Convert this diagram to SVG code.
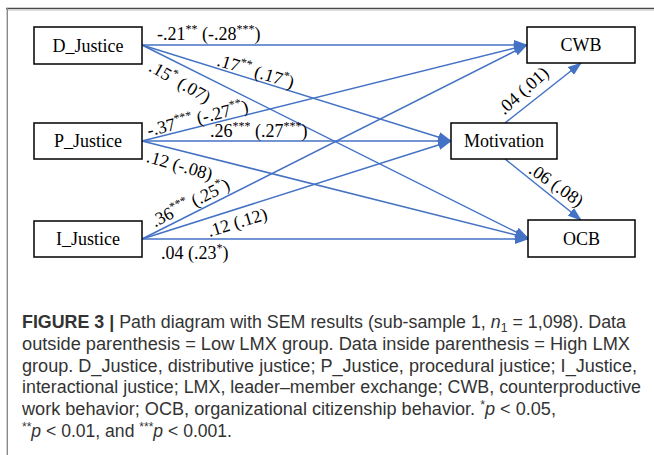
<svg xmlns="http://www.w3.org/2000/svg" width="654" height="455" viewBox="0 0 654 455">
<style>
.box{fill:#fff;stroke:#000;stroke-width:1.5}
.nt{font-family:"Liberation Serif","Times New Roman",serif;font-size:18px;fill:#000;text-anchor:middle}
.lb{font-family:"Liberation Serif","Times New Roman",serif;font-size:18px;fill:#000}
.sup{font-size:12px}
.ar{stroke:#4472C4;stroke-width:1.5;fill:none;marker-end:url(#ah)}
.cap{font-family:"Liberation Sans",Arial,sans-serif;font-size:17.5px;fill:#333}
</style>
<defs>
<marker id="ah" markerUnits="userSpaceOnUse" markerWidth="14" markerHeight="10" refX="13" refY="5" orient="auto">
<path d="M0,0 L14,5 L0,10 Z" fill="#4472C4"/>
</marker>
</defs>
<rect width="654" height="455" fill="#fff"/>
<g id="frame">
<line x1="6" y1="8.5" x2="654" y2="8.5" stroke="#4a4a4a" stroke-width="1.3"/>
<line x1="8" y1="10.2" x2="654" y2="10.2" stroke="#d0d0d0" stroke-width="1"/>
<line x1="7.3" y1="8" x2="7.3" y2="455" stroke="#8a8a8a" stroke-width="1.4"/>
</g>
<g id="connectors">
<line class="ar" x1="142" y1="45" x2="527" y2="45"/>
<line class="ar" x1="142" y1="45" x2="451" y2="141"/>
<line class="ar" x1="142" y1="45" x2="528" y2="238"/>
<line class="ar" x1="142" y1="141" x2="527" y2="45"/>
<line class="ar" x1="142" y1="141" x2="451" y2="141"/>
<line class="ar" x1="142" y1="141" x2="528" y2="238"/>
<line class="ar" x1="142" y1="239" x2="527" y2="45"/>
<line class="ar" x1="142" y1="239" x2="451" y2="141"/>
<line class="ar" x1="142" y1="239" x2="528" y2="239"/>
<line class="ar" x1="505" y1="123" x2="581" y2="63"/>
<line class="ar" x1="505" y1="159" x2="581" y2="220"/>
</g>
<g id="labels">
<text class="lb" x="157" y="40">-.21<tspan class="sup" dy="-7">**</tspan><tspan dy="7"> (-.28</tspan><tspan class="sup" dy="-7">***</tspan><tspan dy="7">)</tspan></text>
<text class="lb" text-anchor="middle" transform="translate(254,77) rotate(17)">.17<tspan class="sup" dy="-7">**</tspan><tspan dy="7"> (.17</tspan><tspan class="sup" dy="-7">*</tspan><tspan dy="7">)</tspan></text>
<text class="lb" text-anchor="middle" transform="translate(177,87) rotate(30)">.15<tspan class="sup" dy="-7">*</tspan><tspan dy="7"> (.07)</tspan></text>
<text class="lb" text-anchor="middle" transform="translate(199,124) rotate(-14)">-.37<tspan class="sup" dy="-7">***</tspan><tspan dy="7"> (-.27</tspan><tspan class="sup" dy="-7">**</tspan><tspan dy="7">)</tspan></text>
<text class="lb" x="210" y="137">.26<tspan class="sup" dy="-7">***</tspan><tspan dy="7"> (.27</tspan><tspan class="sup" dy="-7">***</tspan><tspan dy="7">)</tspan></text>
<text class="lb" text-anchor="middle" transform="translate(178,171) rotate(16)">.12 (-.08)</text>
<text class="lb" text-anchor="middle" transform="translate(193,208) rotate(-27)">.36<tspan class="sup" dy="-7">***</tspan><tspan dy="7"> (.25</tspan><tspan class="sup" dy="-7">*</tspan><tspan dy="7">)</tspan></text>
<text class="lb" text-anchor="middle" transform="translate(239,228) rotate(-17)">.12 (.12)</text>
<text class="lb" x="161" y="259">.04 (.23<tspan class="sup" dy="-7">*</tspan><tspan dy="7">)</tspan></text>
<text class="lb" text-anchor="middle" transform="translate(527,95) rotate(-42)">.04 (.01)</text>
<text class="lb" text-anchor="middle" transform="translate(553,190) rotate(35)">.06 (.08)</text>
</g>
<g id="D_Justice"><rect class="box" x="34" y="27" width="108" height="37"/><text class="nt" x="88" y="52">D_Justice</text></g>
<g id="P_Justice"><rect class="box" x="34" y="123" width="108" height="36"/><text class="nt" x="88" y="147">P_Justice</text></g>
<g id="I_Justice"><rect class="box" x="34" y="221" width="108" height="36"/><text class="nt" x="88" y="245">I_Justice</text></g>
<g id="CWB"><rect class="box" x="527" y="27" width="108" height="36"/><text class="nt" x="581" y="51">CWB</text></g>
<g id="Motivation"><rect class="box" x="451" y="123" width="106" height="36"/><text class="nt" x="504" y="147">Motivation</text></g>
<g id="OCB"><rect class="box" x="528" y="220" width="107" height="37"/><text class="nt" x="581.5" y="245">OCB</text></g>
<g id="caption">
<text class="cap" x="22" y="328" textLength="604" lengthAdjust="spacingAndGlyphs"><tspan font-weight="bold">FIGURE 3 |</tspan> Path diagram with SEM results (sub-sample 1, <tspan font-style="italic">n</tspan><tspan font-size="12" dy="4">1</tspan><tspan dy="-4"> = 1,098). Data</tspan></text>
<text class="cap" x="22" y="350" textLength="608" lengthAdjust="spacingAndGlyphs">outside parenthesis = Low LMX group. Data inside parenthesis = High LMX</text>
<text class="cap" x="22" y="372" textLength="615" lengthAdjust="spacingAndGlyphs">group. D_Justice, distributive justice; P_Justice, procedural justice; I_Justice,</text>
<text class="cap" x="22" y="393" textLength="619" lengthAdjust="spacingAndGlyphs">interactional justice; LMX, leader–member exchange; CWB, counterproductive</text>
<text class="cap" x="22" y="415" textLength="534" lengthAdjust="spacingAndGlyphs">work behavior; OCB, organizational citizenship behavior. <tspan font-size="12" dy="-6">*</tspan><tspan dy="6" font-style="italic">p</tspan> &lt; 0.05,</text>
<text class="cap" x="22" y="437" textLength="210" lengthAdjust="spacingAndGlyphs"><tspan font-size="12" dy="-6">**</tspan><tspan dy="6" font-style="italic">p</tspan> &lt; 0.01, and <tspan font-size="12" dy="-6">***</tspan><tspan dy="6" font-style="italic">p</tspan> &lt; 0.001.</text>
</g>
</svg>
